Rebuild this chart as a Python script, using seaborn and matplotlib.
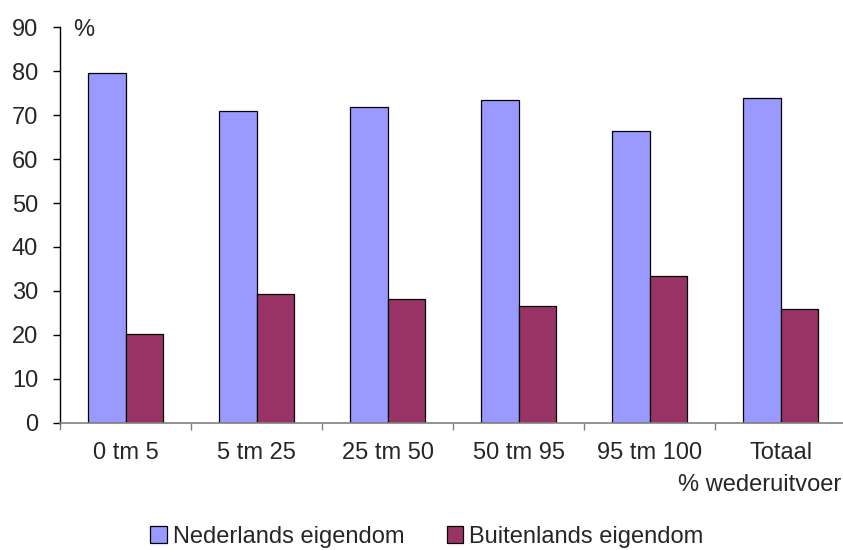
import matplotlib
matplotlib.use("Agg")
import matplotlib.pyplot as plt
import seaborn as sns
import pandas as pd
import numpy as np
from matplotlib.patches import Patch

categories = ["0 tm 5", "5 tm 25", "25 tm 50", "50 tm 95", "95 tm 100", "Totaal"]
nederlands = [79.7, 70.9, 71.9, 73.4, 66.4, 73.9]
buitenlands = [20.3, 29.2, 28.1, 26.6, 33.5, 25.9]
series_names = ["Nederlands eigendom", "Buitenlands eigendom"]
colors = ["#9999FF", "#993366"]

df = pd.DataFrame({
    "cat": categories * 2,
    "val": nederlands + buitenlands,
    "serie": [series_names[0]] * len(categories) + [series_names[1]] * len(categories),
})

sns.set_style("white")
plt.rcParams["font.family"] = ["Liberation Sans", "DejaVu Sans"]

FS = 17
fig = plt.figure(figsize=(8.43, 5.5), dpi=100)
ax = fig.add_axes([60.3 / 843, 127.3 / 550, 786 / 843, (422.7 - 27.3) / 550])

sns.barplot(data=df, x="cat", y="val", hue="serie", order=categories,
            hue_order=series_names, palette=colors, width=0.575,
            edgecolor="black", linewidth=0.9, saturation=1, ax=ax, legend=False)

ax.set_ylim(0, 90)
ax.set_xlim(-0.5, 5.5)
ax.set_yticks(np.arange(0, 91, 10))
ax.set_xlabel("")
ax.set_ylabel("")
for s in ["top", "right"]:
    ax.spines[s].set_visible(False)
ax.spines["left"].set_color("black")
ax.spines["left"].set_linewidth(1.0)
ax.spines["bottom"].set_color("#808080")
ax.spines["bottom"].set_linewidth(1.2)

ax.tick_params(axis="y", direction="out", length=5.4, width=1.0, color="black",
               labelsize=FS, pad=10.5, left=True)
ax.set_xticks(range(len(categories)))
ax.set_xticklabels(categories)
ax.set_xticks(np.arange(-0.5, 5.6, 1.0), minor=True)
ax.tick_params(axis="x", which="major", length=0, labelsize=FS, pad=14)
ax.tick_params(axis="x", which="minor", direction="out", length=5.2, width=1.0,
               color="#808080", bottom=True)

fig.text(73 / 843, 1 - 30 / 550, "%", fontsize=FS, ha="left", va="center")
fig.text(841 / 843, 1 - 485 / 550, "% wederuitvoer", fontsize=FS, ha="right", va="center")

handles = [Patch(facecolor=c, edgecolor="black", linewidth=0.9) for c in colors]
fig.legend(handles, series_names, loc="center", bbox_to_anchor=(427 / 843, 1 - 537 / 550),
           ncol=2, frameon=False, fontsize=FS, handlelength=0.7, handleheight=0.7,
           handletextpad=0.25, columnspacing=1.8, borderaxespad=0)

fig.savefig("out.png", dpi=100)
